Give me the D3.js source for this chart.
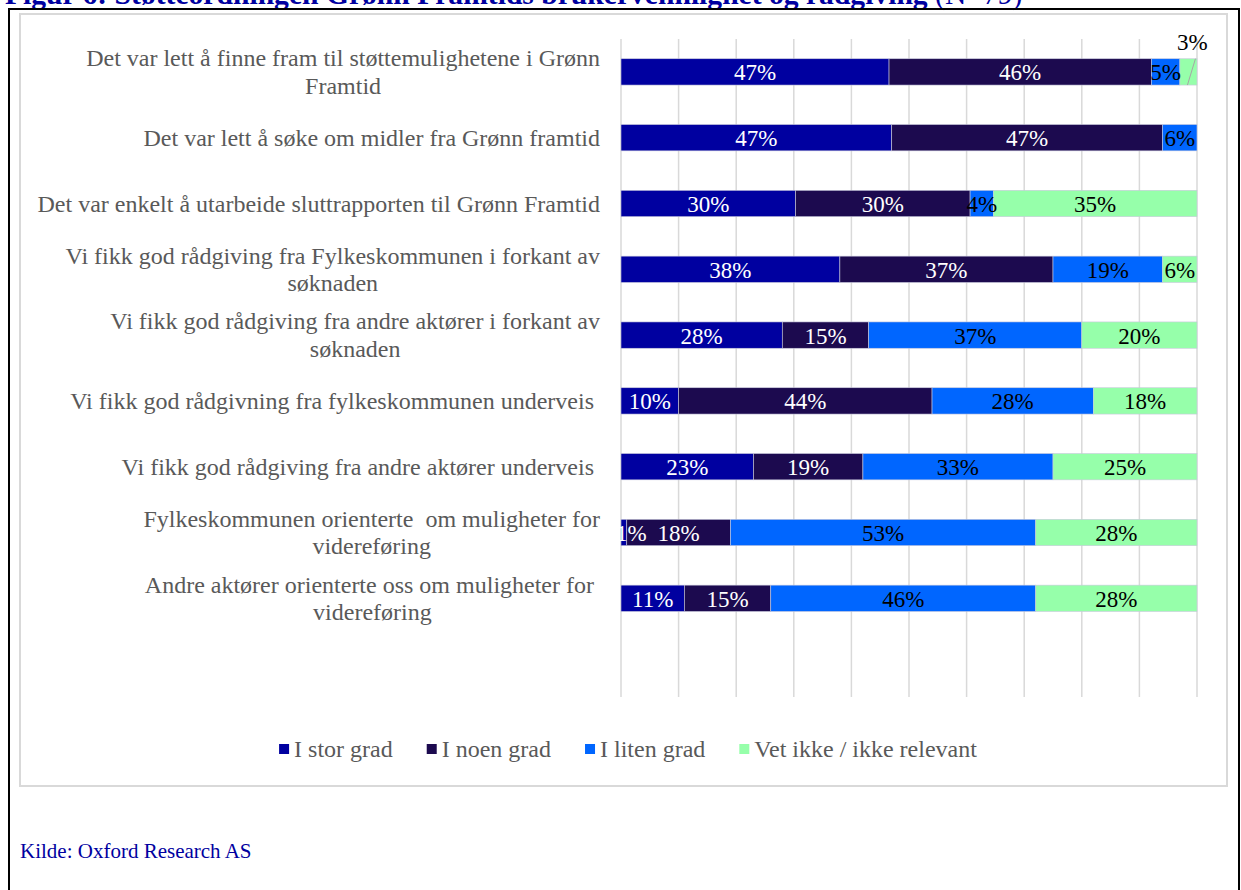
<!DOCTYPE html>
<html><head><meta charset="utf-8">
<script src="https://cdn.jsdelivr.net/npm/d3@7"></script>
<style>
body{margin:0;background:#fff}
svg{display:block}
text{font-family:"Liberation Serif","Times New Roman",serif;white-space:pre}
</style>
</head><body>
<svg id="chart" width="1241" height="890"></svg>
<script>
// ---------------- data ----------------
const categories = [
  "Det var lett å finne fram til støttemulighetene i Grønn Framtid",
  "Det var lett å søke om midler fra Grønn framtid",
  "Det var enkelt å utarbeide sluttrapporten til Grønn Framtid",
  "Vi fikk god rådgiving fra Fylkeskommunen i forkant av søknaden",
  "Vi fikk god rådgiving fra andre aktører i forkant av søknaden",
  "Vi fikk god rådgivning fra fylkeskommunen underveis ",
  "Vi fikk god rådgiving fra andre aktører underveis ",
  "Fylkeskommunen orienterte  om muligheter for videreføring",
  "Andre aktører orienterte oss om muligheter for videreføring"
];
const categoryLines = [
  ["Det var lett å finne fram til støttemulighetene i Grønn", "Framtid"],
  ["Det var lett å søke om midler fra Grønn framtid"],
  ["Det var enkelt å utarbeide sluttrapporten til Grønn Framtid"],
  ["Vi fikk god rådgiving fra Fylkeskommunen i forkant av", "søknaden"],
  ["Vi fikk god rådgiving fra andre aktører i forkant av", "søknaden"],
  ["Vi fikk god rådgivning fra fylkeskommunen underveis "],
  ["Vi fikk god rådgiving fra andre aktører underveis "],
  ["Fylkeskommunen orienterte  om muligheter for", "videreføring"],
  ["Andre aktører orienterte oss om muligheter for ", "videreføring"]
];
const seriesNames = ["I stor grad", "I noen grad", "I liten grad", "Vet ikke / ikke relevant"];
const iStorGrad  = [47, 47, 30, 38, 28, 10, 23,  1, 11];
const iNoenGrad  = [46, 47, 30, 37, 15, 44, 19, 18, 15];
const iLitenGrad = [ 5,  6,  4, 19, 37, 28, 33, 53, 46];
const vetIkke    = [ 3,  0, 35,  6, 20, 18, 25, 28, 28];
const xTickValues = [0, 0.1, 0.2, 0.3, 0.4, 0.5, 0.6, 0.7, 0.8, 0.9, 1.0];
const seriesColors = ["#0000A0", "#1C0A4F", "#0066FF", "#96FFAA"];
const labelColors  = ["#FFFFFF", "#FFFFFF", "#000000", "#000000"];
const titleBold = "Figur 6: Støtteordningen Grønn Framtids brukervennlighet og rådgiving";
const titleNormal = " (N=79)";
const sourceText = "Kilde: Oxford Research AS";

// ---------------- layout ----------------
const svg = d3.select("#chart");
const W = 1241, H = 890;
const plotLeft = 621, plotRight = 1197, plotTop = 39, plotBottom = 697;
const rowStep = (plotBottom - plotTop) / 10;

const x = d3.scaleLinear().domain([0, 1]).range([plotLeft, plotRight]);
const y = d3.scaleBand().domain(d3.range(categories.length))
  .range([plotTop, plotTop + rowStep * categories.length])
  .paddingInner(0.6).paddingOuter(0.3);

// title (partially cut off at top)
const title = svg.append("text").attr("x", 5).attr("y", 4)
  .attr("font-size", 29.6).attr("fill", "#0000A0");
title.append("tspan").attr("font-weight", "bold").text(titleBold);
title.append("tspan").text(titleNormal);

// outer black frame
svg.append("path").attr("d", `M9,${H} V9 H1239 V${H}`)
  .attr("fill", "none").attr("stroke", "#000").attr("stroke-width", 2);

// chart area border
svg.append("rect").attr("x", 20).attr("y", 14).attr("width", 1207).attr("height", 772)
  .attr("fill", "#fff").attr("stroke", "#d9d9d9").attr("stroke-width", 2);

// gridlines
svg.append("g").selectAll("line").data(xTickValues).join("line")
  .attr("x1", d => x(d)).attr("x2", d => x(d))
  .attr("y1", plotTop).attr("y2", plotBottom)
  .attr("stroke", "#d9d9d9").attr("stroke-width", 1.5);

// stacked data (100% normalised)
const allSeries = [iStorGrad, iNoenGrad, iLitenGrad, vetIkke];
const rows = categories.map((c, i) => {
  const vals = allSeries.map(s => s[i]);
  const total = d3.sum(vals);
  let acc = 0;
  return vals.map((v, k) => {
    const seg = {row: i, series: k, value: v, x0: acc / total, x1: (acc + v) / total};
    acc += v;
    return seg;
  });
});
const segs = rows.flat().filter(d => d.value > 0);

const clip = svg.append("clipPath").attr("id", "plotclip");
clip.append("rect").attr("x", plotLeft - 1).attr("y", 0).attr("width", plotRight - plotLeft + 40).attr("height", H);

svg.append("g").selectAll("rect").data(segs).join("rect")
  .attr("x", d => x(d.x0)).attr("width", d => x(d.x1) - x(d.x0))
  .attr("y", d => y(d.row)).attr("height", y.bandwidth())
  .attr("fill", d => seriesColors[d.series])
  .attr("stroke", "#c8c8dc").attr("stroke-width", 0.6);

// data labels
const lblG = svg.append("g").attr("clip-path", "url(#plotclip)");
const lastSeries = allSeries.length - 1;
segs.forEach(d => {
  let cx = (x(d.x0) + x(d.x1)) / 2;
  const cy = y(d.row) + y.bandwidth() / 2;
  const outside = d.series === lastSeries && (x(d.x1) - x(d.x0)) < 20;
  if (outside) {
    lblG.append("line")
      .attr("x1", cx - 1).attr("y1", y(d.row) + y.bandwidth())
      .attr("x2", cx + 7).attr("y2", y(d.row))
      .attr("stroke", "#a6a6a6").attr("stroke-width", 1);
    lblG.append("text").attr("x", cx + 4).attr("y", y(d.row) - 16)
      .attr("text-anchor", "middle").attr("dominant-baseline", "central")
      .attr("font-size", 23).attr("fill", "#000").text(d.value + "%");
  } else {
    const t = lblG.append("text").attr("x", cx).attr("y", cy + 1)
      .attr("text-anchor", "middle").attr("dominant-baseline", "central")
      .attr("font-size", 23).attr("fill", labelColors[d.series]).text(d.value + "%");
    const w = t.node().getComputedTextLength();
    if (cx - w / 2 < plotLeft) { cx = plotLeft - 5 + w / 2; t.attr("x", cx); }
  }
});

// category labels (right aligned block, lines centred)
const catG = svg.append("g");
const lineH = 27.5;
categoryLines.forEach((lines, i) => {
  const cy = y(i) + y.bandwidth() / 2;
  const g = catG.append("g");
  const texts = lines.map((ln, j) => g.append("text")
    .attr("y", cy + (j - (lines.length - 1) / 2) * lineH)
    .attr("dominant-baseline", "central").attr("text-anchor", "middle")
    .attr("font-size", 24).attr("fill", "#595959").text(ln));
  const maxW = d3.max(texts, t => t.node().getComputedTextLength());
  texts.forEach(t => t.attr("x", 600 - maxW / 2));
});

// legend
const legG = svg.append("g");
let lx = 0;
seriesNames.forEach((n, k) => {
  const g = legG.append("g");
  g.append("rect").attr("x", lx).attr("y", 744).attr("width", 10).attr("height", 10)
    .attr("fill", seriesColors[k]);
  const t = g.append("text").attr("x", lx + 15).attr("y", 749)
    .attr("dominant-baseline", "central").attr("font-size", 24).attr("fill", "#595959").text(n);
  lx += 15 + t.node().getComputedTextLength() + 34;
});
const legW = lx - 34;
legG.attr("transform", `translate(${628 - legW / 2},0)`);

// source
svg.append("text").attr("x", 20).attr("y", 858).attr("font-size", 21)
  .attr("fill", "#0000A0").text(sourceText);
</script>
</body></html>
